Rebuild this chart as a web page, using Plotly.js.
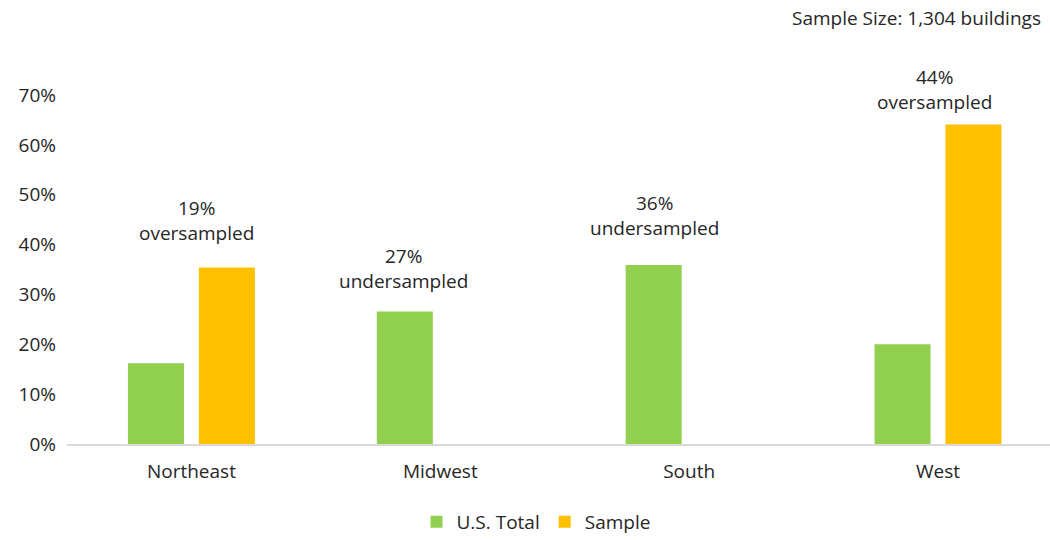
<!DOCTYPE html>
<html>
<head>
<meta charset="utf-8">
<script src="https://cdn.plot.ly/plotly-3.0.1.min.js"></script>
<style>html,body{margin:0;padding:0;background:#fff;}#chart{width:1050px;height:540px;}</style>
</head>
<body>
<div id="chart"></div>
<script>
const regions = ["Northeast", "Midwest", "South", "West"];
const usTotal = [0.162, 0.266, 0.359, 0.200];
const sample = [0.354, 0, 0, 0.641];
const noteLabels = ["19%<br>oversampled", "27%<br>undersampled", "36%<br>undersampled", "44%<br>oversampled"];
const sampleSizeText = "Sample Size: 1,304 buildings";

const FONT = "'Open Sans', Lato, sans-serif";
const TXT = "#262626";
const FS = 19;

// annotation positions in paper coordinates
const notePos = [
  {x: 0.132, y: 0.640},
  {x: 0.342, y: 0.504},
  {x: 0.598, y: 0.656},
  {x: 0.883, y: 1.017}
];

const traces = [
  {type: "bar", name: "U.S. Total", x: regions, y: usTotal, marker: {color: "#92d050"}, hoverinfo: "none"},
  {type: "bar", name: "Sample", x: regions, y: sample, marker: {color: "#ffc000"}, hoverinfo: "none"}
];

const annotations = noteLabels.map((t, i) => ({
  text: t, xref: "paper", yref: "paper", x: notePos[i].x, y: notePos[i].y,
  showarrow: false, xanchor: "center", yanchor: "middle", align: "center",
  font: {family: FONT, size: FS, color: TXT}
}));
annotations.push({
  text: sampleSizeText, xref: "paper", yref: "paper", x: 0.9929, y: 1.221,
  xanchor: "right", yanchor: "middle", showarrow: false,
  font: {family: FONT, size: FS, color: TXT}
});

const layout = {
  width: 1050, height: 540,
  margin: {l: 67, r: 0, t: 95, b: 96},
  paper_bgcolor: "#fff", plot_bgcolor: "#fff",
  font: {family: FONT, size: FS, color: TXT},
  barmode: "group", bargap: 0.43, bargroupgap: 0.21,
  xaxis: {
    type: "category", range: [-0.5, 3.45], showgrid: false, zeroline: false,
    showline: true, linecolor: "#d9d9d9", linewidth: 1.5, ticks: "",
    tickfont: {family: FONT, size: FS, color: TXT}, ticklabelstandoff: 10
  },
  yaxis: {
    range: [0, 0.7], dtick: 0.1, tickformat: ".0%", showgrid: false, zeroline: false,
    showline: false, ticks: "", tickfont: {family: FONT, size: FS, color: TXT},
    ticklabelstandoff: 10
  },
  showlegend: true,
  legend: {
    orientation: "h", xref: "container", yref: "container", x: 536/1050, y: 1 - 522/540,
    xanchor: "center", yanchor: "middle", font: {family: FONT, size: FS, color: TXT},
    itemwidth: 30, traceorder: "normal"
  },
  annotations: annotations
};

Plotly.newPlot("chart", traces, layout, {displayModeBar: false, staticPlot: true});
</script>
</body>
</html>
